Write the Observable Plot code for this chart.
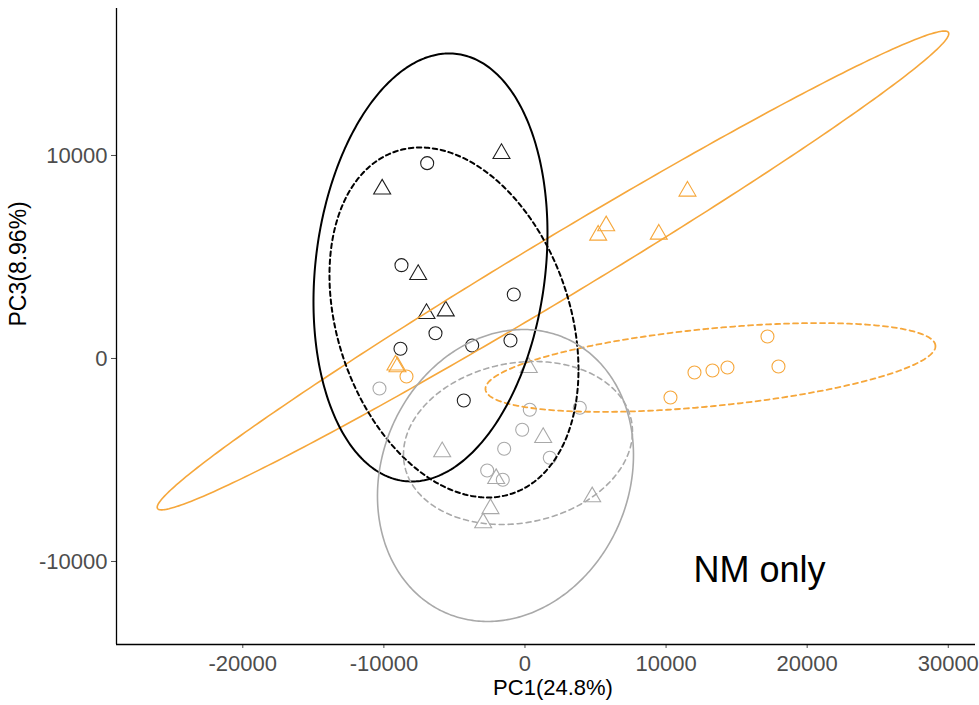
<!DOCTYPE html>
<html>
<head>
<meta charset="utf-8">
<script src="https://cdn.jsdelivr.net/npm/d3@7"></script>
<script src="https://cdn.jsdelivr.net/npm/@observablehq/plot@0.6"></script>
<style>
  html, body { margin: 0; padding: 0; background: #fff; }
</style>
</head>
<body>
<div id="chart"></div>
<script>
// Sample scores on PC1 / PC3, split by group colour and marker shape
const blackCirclePC1 = [-6932, -8753, -794, -6343, -8824, -3742, -1028, -4337];
const blackCirclePC3 = [9621, 4596, 3153, 1246, 478, 640, 887, -2069];
const blackTrianglePC1 = [-1666, -10121, -7569, -6981, -5613];
const blackTrianglePC3 = [10090, 8340, 4130, 2210, 2340];

const greyCirclePC1 = [-10312, 340, 3884, -198, -1474, 1758, -2679, -1573];
const greyCirclePC3 = [-1478, -2527, -2429, -3512, -4448, -4892, -5517, -5975];
const greyTrianglePC1 = [269, 1290, -5868, -2041, 4763, -2445, -2962];
const greyTrianglePC3 = [-450, -3900, -4600, -5920, -6820, -7400, -8100];

const orangeCirclePC1 = [-8398, 10312, 12013, 13288, 14351, 17186, 17966];
const orangeCirclePC3 = [-887, -1921, -690, -591, -443, 1084, -394];
const orangeTrianglePC1 = [-9178, -9036, 5188, 5755, 9483, 11517];
const orangeTrianglePC3 = [-330, -410, 6070, 6530, 6120, 8240];

// 95% confidence ellipses: centre, spread along each axis and correlation
const ellipseColour = ["orange", "orange", "black", "black", "grey", "grey"];
const ellipseShape = ["triangle", "circle", "triangle", "circle", "triangle", "circle"];
const ellipseCentrePC1 = [1985, 13146, -6697, -5032, -1382, -496];
const ellipseCentrePC3 = [4335, -443, 4483, 1773, -5764, -4163];
const ellipseSpreadPC1 = [28051, 15946, 8292, 8824, 9072, 8115];
const ellipseSpreadPC3 = [11793, 2187, 10542, 8621, 7192, 4015];
const ellipseCorrelation = [0.989, 0.481, 0.16, -0.27, 0.14, 0.14];

// Axes
const xTicks = [-20000, -10000, 0, 10000, 20000, 30000];
const yTicks = [-10000, 0, 10000];
const xDomain = [-28950, 31930];
const yDomain = [-14090, 17240];
const xTitle = "PC1(24.8%)";
const yTitle = "PC3(8.96%)";
const panelNote = "NM only";

const palette = { black: "#000000", grey: "#a9a9a9", orange: "#f6a73b" };
const pointColour = { black: "#1e1e1e", grey: "#a9a9a9", orange: "#f6a73b" };

function pointsOf(colour, shape, pc1, pc3) {
  return pc1.map((v, i) => ({ colour, shape, pc1: v, pc3: pc3[i] }));
}

const circles = [
  ...pointsOf("black", "circle", blackCirclePC1, blackCirclePC3),
  ...pointsOf("grey", "circle", greyCirclePC1, greyCirclePC3),
  ...pointsOf("orange", "circle", orangeCirclePC1, orangeCirclePC3)
];
const triangles = [
  ...pointsOf("black", "triangle", blackTrianglePC1, blackTrianglePC3),
  ...pointsOf("grey", "triangle", greyTrianglePC1, greyTrianglePC3),
  ...pointsOf("orange", "triangle", orangeTrianglePC1, orangeTrianglePC3)
];

// Outline of a covariance ellipse from its centre, spreads and correlation
function outline(i) {
  const n = 361;
  const r = ellipseCorrelation[i];
  const s = Math.sqrt(1 - r * r);
  return d3.range(n).map(k => {
    const t = (2 * Math.PI * k) / (n - 1);
    return {
      pc1: ellipseCentrePC1[i] + ellipseSpreadPC1[i] * Math.cos(t),
      pc3: ellipseCentrePC3[i] + ellipseSpreadPC3[i] * (r * Math.cos(t) + s * Math.sin(t))
    };
  });
}

const lineStyle = {
  black: { solid: 2, dashed: 2, dash: "4.5,3.5" },
  grey: { solid: 1.6, dashed: 1.6, dash: "5,4" },
  orange: { solid: 1.6, dashed: 1.8, dash: "5,4" }
};

const ellipseMarks = ellipseColour.map((c, i) => {
  const dashed = ellipseShape[i] === "circle";
  return Plot.line(outline(i), {
    x: "pc1",
    y: "pc3",
    stroke: palette[c],
    strokeWidth: dashed ? lineStyle[c].dashed : lineStyle[c].solid,
    strokeDasharray: dashed ? lineStyle[c].dash : null,
    curve: "linear"
  });
});

const chart = Plot.plot({
  width: 979,
  height: 705,
  marginLeft: 116,
  marginRight: 4,
  marginTop: 8,
  marginBottom: 61,
  x: { domain: xDomain },
  y: { domain: yDomain },
  style: { fontFamily: "'Liberation Sans', Arial, sans-serif", background: "#fff" },
  marks: [
    Plot.axisX({
      ticks: xTicks,
      tickFormat: d => String(d),
      tickSize: 4,
      tickPadding: 7,
      fontSize: 22,
      color: "#4d4d4d",
      label: null
    }),
    Plot.axisY({
      ticks: yTicks,
      tickFormat: d => String(d),
      tickSize: 5,
      tickPadding: 4,
      fontSize: 22,
      color: "#4d4d4d",
      label: null
    }),
    Plot.ruleX([xDomain[0]], { stroke: "#000", strokeWidth: 1.3 }),
    Plot.ruleY([yDomain[0]], { stroke: "#000", strokeWidth: 1.3 }),
    Plot.dot(circles, {
      x: "pc1",
      y: "pc3",
      r: 6.5,
      symbol: "circle",
      fill: "none",
      stroke: d => pointColour[d.colour],
      strokeWidth: 1.1
    }),
    Plot.dot(triangles, {
      x: "pc1",
      y: "pc3",
      r: 6.3,
      symbol: "triangle",
      fill: "none",
      stroke: d => pointColour[d.colour],
      strokeWidth: 1.1
    }),
    ...ellipseMarks,
    Plot.text([xTitle], {
      frameAnchor: "bottom",
      dy: 50,
      dx: 7,
      fontSize: 22,
      fill: "#000",
      text: d => d
    }),
    Plot.text([yTitle], {
      frameAnchor: "left",
      dx: -98,
      rotate: -90,
      fontSize: 23,
      fill: "#000",
      text: d => d
    }),
    Plot.text([panelNote], {
      frameAnchor: "bottom-right",
      textAnchor: "end",
      dx: -150,
      dy: -63,
      fontSize: 36,
      fill: "#000",
      text: d => d
    })
  ]
});

document.getElementById("chart").appendChild(chart);
</script>
</body>
</html>
